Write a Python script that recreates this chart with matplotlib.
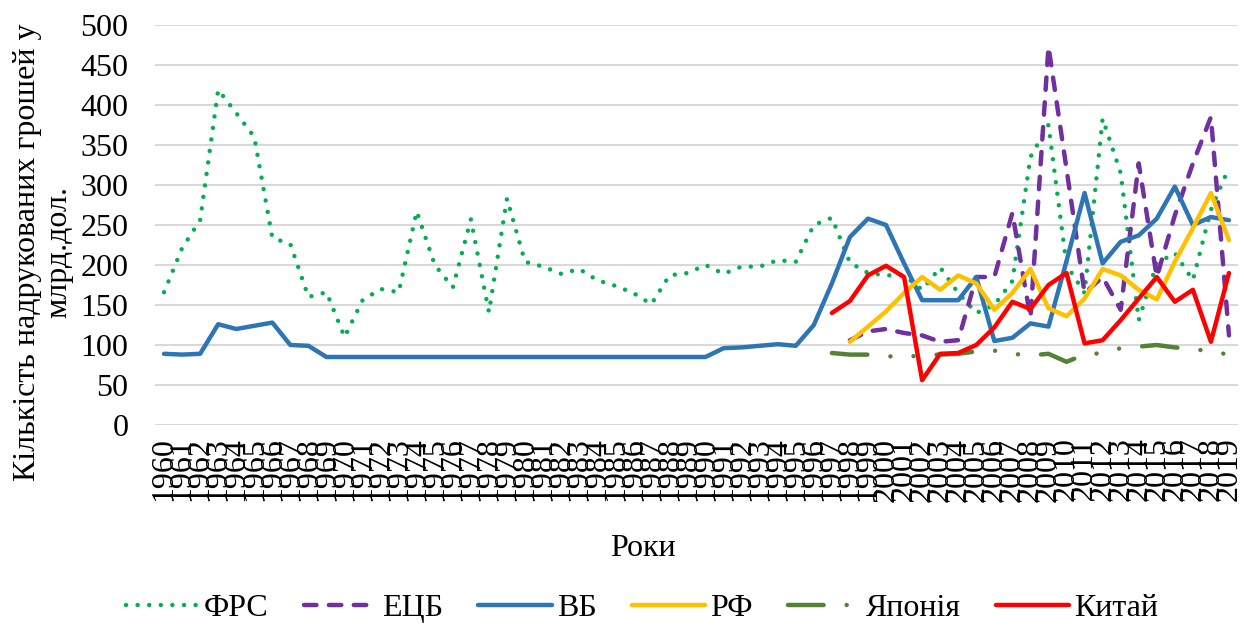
import numpy as np
import matplotlib
matplotlib.use('Agg')
import matplotlib.pyplot as plt

#------------------------------------------------------
# data (billion USD)
#------------------------------------------------------
years = np.arange(1960, 2020)
nan = np.nan

# ФРС
frs = [166, 221, 256, 419, 390, 360, 234, 226, 160, 166,
       110, 156, 170, 166, 267, 200, 172, 257, 141, 283,
       204, 198, 189, 195, 181, 174, 165, 151, 187, 190,
       200, 189, 198, 198, 206, 204, 250, 259, 203, 190,
       187, 187, 169, 197, 165, 140, 150, 180, 335, 375,
       200, 165, 383, 315, 131, 202, 215, 181, 269, 322]

# ЕЦБ
ecb = [nan]*38 + [106, 117,
       120, 115, 112, 104, 106, 185, 185, 265, 134, 473,
       320, 165, 185, 144, 327, 185, 262, 327, 385, 112]

# ВБ
vb = [89, 88, 89, 126, 120, 124, 128, 100, 99, 85,
      85, 85, 85, 85, 85, 85, 85, 85, 85, 85,
      85, 85, 85, 85, 85, 85, 85, 85, 85, 85,
      85, 96, 97, 99, 101, 99, 125, 177, 235, 258,
      250, 202, 156, 156, 156, 185, 105, 109, 127, 123,
      205, 290, 202, 229, 237, 258, 298, 250, 260, 256]

# РФ
rf = [nan]*38 + [104, 123,
      142, 165, 185, 169, 187, 177, 144, 165, 195, 146,
      136, 158, 195, 187, 169, 157, 204, 246, 290, 231]

# Японія
japan = [nan]*37 + [90, 88, 88,
         86, 85, 87, 88, 89, 92, 93, 89, 87, 89,
         79, 88, 90, 96, 98, 100, 97, 95, 92, 88]

# Китай
china = [nan]*37 + [140, 155, 187,
         199, 185, 56, 89, 90, 100, 122, 154, 145, 175,
         190, 102, 106, 131, 158, 185, 154, 169, 104, 190]

names = ['ФРС', 'ЕЦБ', 'ВБ', 'РФ', 'Японія', 'Китай']
colors = ['#00B050', '#7030A0', '#2E75B6', '#FFC000', '#548235', '#FF0000']
styles = [(0, (0.01, 2.6)),
          (0, (2.8, 2.8)),
          '-', '-',
          (0, (8, 5.2, 0.01, 5.2, 0.01, 5.2)),
          '-']
series = [frs, ecb, vb, rf, japan, china]

#------------------------------------------------------
# plot
#------------------------------------------------------
plt.rcParams['font.family'] = ['Liberation Serif', 'DejaVu Serif']
fs = 23

fig = plt.figure(figsize=(12.44, 6.28), dpi=100)
ax = fig.add_axes([155/1244, 1-425/628, (1238-155)/1244, 400/628])

x = np.arange(len(years))
for s, name, c, ls in zip(series, names, colors, styles):
    ax.plot(x, np.array(s, dtype=float), color=c, linestyle=ls, linewidth=3.2,
            solid_capstyle='round', dash_capstyle='round', label=name)

ax.set_xlim(-0.5, len(years)-0.5)
ax.set_ylim(0, 500)
ax.set_yticks(np.arange(0, 501, 50))
ax.set_xticks(x)
ax.set_xticklabels([str(y) for y in years], rotation=90, fontsize=fs)
ax.tick_params(axis='x', length=0, pad=9)
ax.tick_params(axis='y', length=0, pad=19, labelsize=fs)
ax.grid(axis='y', color='#d9d9d9', linewidth=1.5)
ax.set_axisbelow(True)
for sp in ax.spines.values():
    sp.set_visible(False)

fig.text(643/1244, 1-548/628, 'Роки', fontsize=fs, ha='center', va='center')
fig.text(43/1244, 1-252/628, 'Кількість надрукованих грошей у\nмлрд.дол.',
         fontsize=fs, rotation=90, ha='center', va='center',
         multialignment='center', linespacing=1.1)

fig.legend(loc='center', bbox_to_anchor=(642/1244, 1-608/628), ncol=6,
           frameon=False, fontsize=fs, handlelength=2.3, handletextpad=0.15,
           columnspacing=1.1, borderpad=0)

fig.savefig('out.png', dpi=100)
